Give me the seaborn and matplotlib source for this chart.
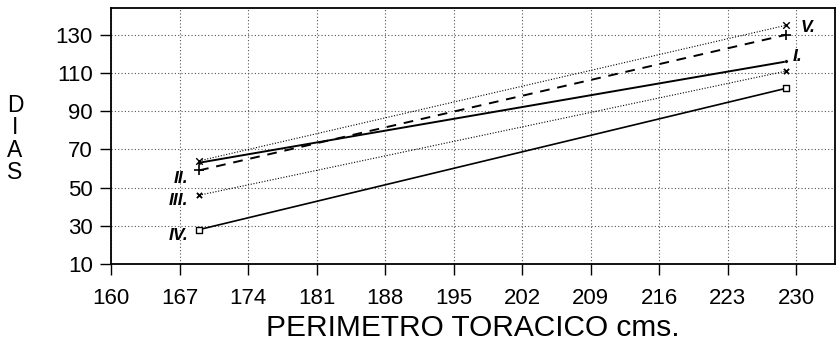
import matplotlib
matplotlib.use("Agg")
import matplotlib.pyplot as plt
import seaborn as sns
import pandas as pd

# ---- data ----
x_points = [169, 229]
series_names = ["I.", "II.", "III.", "IV.", "V."]
serie_I = [63, 116]
serie_II = [59, 130]
serie_III = [46, 111]
serie_IV = [28, 102]
serie_V = [64, 135]
x_ticks = [160, 167, 174, 181, 188, 195, 202, 209, 216, 223, 230]
y_ticks = [10, 30, 50, 70, 90, 110, 130]

values = {"I.": serie_I, "II.": serie_II, "III.": serie_III, "IV.": serie_IV, "V.": serie_V}

sns.set_theme(style="white")
plt.rcParams["font.family"] = ["Liberation Sans", "DejaVu Sans"]
plt.rcParams["text.color"] = "black"
plt.rcParams["axes.labelcolor"] = "black"

fig = plt.figure(figsize=(8.37, 3.41), dpi=100)
ax = fig.add_axes([111 / 837, 1 - 264 / 341, 1 - 111 / 837 - 0.002, (264 - 8) / 341])

line_styles = {
    "I.": dict(linestyle="-", linewidth=1.4),
    "II.": dict(linestyle=(0, (5, 4)), linewidth=1.4),
    "III.": dict(linestyle=(0, (1, 1.5)), linewidth=0.8),
    "IV.": dict(linestyle="-", linewidth=1.2),
    "V.": dict(linestyle=(0, (1, 1.5)), linewidth=0.8),
}
marker_styles = {
    "I.": dict(marker="o", s=6, color="black"),
    "II.": dict(marker="+", s=45, color="black", linewidth=1.2),
    "III.": dict(marker="x", s=14, color="black", linewidth=1.3),
    "IV.": dict(marker="s", s=22, facecolor="white", edgecolor="black", linewidth=1.0),
    "V.": dict(marker="x", s=22, color="black", linewidth=1.0),
}

for name in series_names:
    df = pd.DataFrame({"x": x_points, "y": values[name]})
    sns.lineplot(data=df, x="x", y="y", ax=ax, color="black", **line_styles[name])
    sns.scatterplot(data=df, x="x", y="y", ax=ax, zorder=5, **marker_styles[name])

ax.set_xlim(160, 234)
ax.set_ylim(10, 144)
ax.set_xticks(x_ticks)
ax.set_yticks(y_ticks)
ax.tick_params(axis="both", labelsize=16, colors="black", direction="out",
               length=8, width=1, bottom=True, left=True)
ax.tick_params(axis="x", pad=9)
ax.tick_params(axis="y", pad=5)
ax.grid(True, linestyle=(0, (1, 2)), color="#555555", linewidth=0.8)
for s in ax.spines.values():
    s.set_color("black")
    s.set_linewidth(1.3)
ax.set_xlabel("PERIMETRO TORACICO cms.", fontsize=21.5, labelpad=4, color="black")
ax.set_ylabel("")

# series labels
lab_kw = dict(fontsize=12.5, fontstyle="italic", fontweight="bold", color="black")
ax.text(230.4, 134, "V.", ha="left", va="center", **lab_kw)
ax.text(229.6, 118.5, "I.", ha="left", va="center", **lab_kw)
ax.text(167.9, 55, "II.", ha="right", va="center", **lab_kw)
ax.text(167.9, 43, "III.", ha="right", va="center", **lab_kw)
ax.text(167.9, 25, "IV.", ha="right", va="center", **lab_kw)

fig.text(15 / 837, 1 - 139 / 341, "D\nI\nA\nS", ha="center", va="center",
         fontsize=16.5, linespacing=0.95, color="black")

fig.savefig("out.png", dpi=100)
